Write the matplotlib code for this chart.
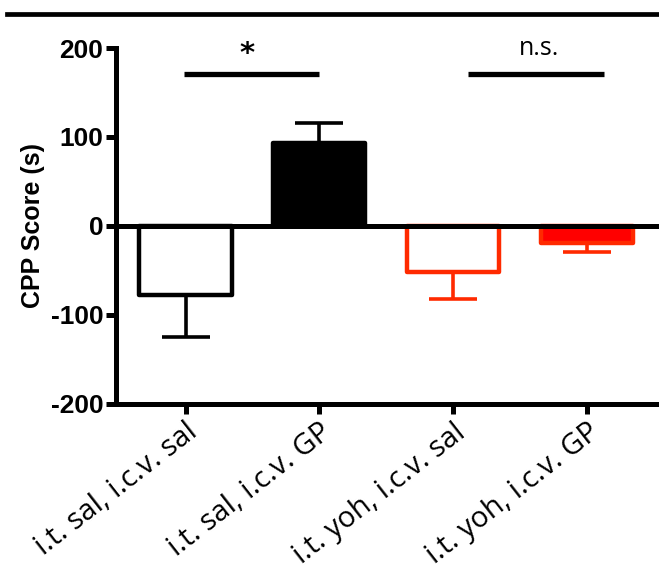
import matplotlib
matplotlib.use("Agg")
import matplotlib.pyplot as plt
from matplotlib.lines import Line2D
import matplotlib.transforms as mtransforms
import numpy as np

categories = ["i.t. sal, i.c.v. sal", "i.t. sal, i.c.v. GP", "i.t. yoh, i.c.v. sal", "i.t. yoh, i.c.v. GP"]
means = [-78, 93, -52, -19]
sems = [47, 23, 30, 10]
face_colors = ["white", "black", "white", "#ff0000"]
edge_colors = ["black", "black", "#ff2a00", "#ff2a00"]
yticks = [-200, -100, 0, 100, 200]
sig_labels = ["*", "n.s."]
sig_groups = [(0, 1), (2, 3)]
sig_level = 171

fig = plt.figure(figsize=(6.59, 5.72), dpi=100)
ax = fig.add_axes([0.176, 0.294, 0.824, 0.622])

x = np.arange(len(categories))
lw = 3.2
for xi, m, s, fc, ec in zip(x, means, sems, face_colors, edge_colors):
    ax.bar(xi, m, width=0.69, color=fc, edgecolor=ec, linewidth=lw, joinstyle="round", zorder=2)
    lower = [s] if m < 0 else [0]
    upper = [s] if m >= 0 else [0]
    ax.errorbar(xi, m, yerr=[lower, upper], fmt="none", ecolor=ec, elinewidth=2.6,
                capsize=17, capthick=2.6, zorder=1)

ax.axhline(0, color="black", lw=3.6, zorder=3)

# significance bars
shifts = [(-0.015, 0.0), (0.11, 0.13)]
for (a, b), label, (sa, sb) in zip(sig_groups, sig_labels, shifts):
    x0, x1 = x[a] + sa, x[b] + sb
    ax.plot([x0, x1], [sig_level, sig_level], color="black", lw=3.8, clip_on=False,
            solid_capstyle="butt")
    if label == "*":
        ax.text((x0 + x1) / 2 - 0.03, sig_level + 7, label, ha="center", va="bottom",
                fontsize=21, fontweight="bold", family="DejaVu Sans")
    else:
        ax.text((x0 + x1) / 2 + 0.02, sig_level + 14, label, ha="center", va="bottom",
                fontsize=18, family="Open Sans")

ax.set_xlim(-0.52, 3.54)
ax.set_ylim(-200, 200)
ax.set_yticks(yticks)
ax.set_yticklabels([str(v) for v in yticks], fontsize=19, fontweight="bold", family="Liberation Sans")
ax.set_xticks(x)
ax.set_xticklabels(categories, rotation=38, ha="right", rotation_mode="anchor",
                   fontsize=21, family="Open Sans")
offset = mtransforms.ScaledTranslation(11 / 100, 2 / 100, fig.dpi_scale_trans)
for lab in ax.get_xticklabels():
    lab.set_transform(lab.get_transform() + offset)
ax.tick_params(axis="both", direction="out", length=7, width=3.6, pad=2)
ax.tick_params(axis="x", pad=3)
for sp in ["top", "right"]:
    ax.spines[sp].set_visible(False)
for sp in ["left", "bottom"]:
    ax.spines[sp].set_linewidth(3.6)
ax.set_ylabel("CPP Score (s)", fontsize=18, fontweight="bold", family="Liberation Sans", labelpad=4)

fig.add_artist(Line2D([0.01, 1.0], [1 - 14 / 572, 1 - 14 / 572], color="black", lw=3.4))

fig.savefig("out.png", dpi=100)
